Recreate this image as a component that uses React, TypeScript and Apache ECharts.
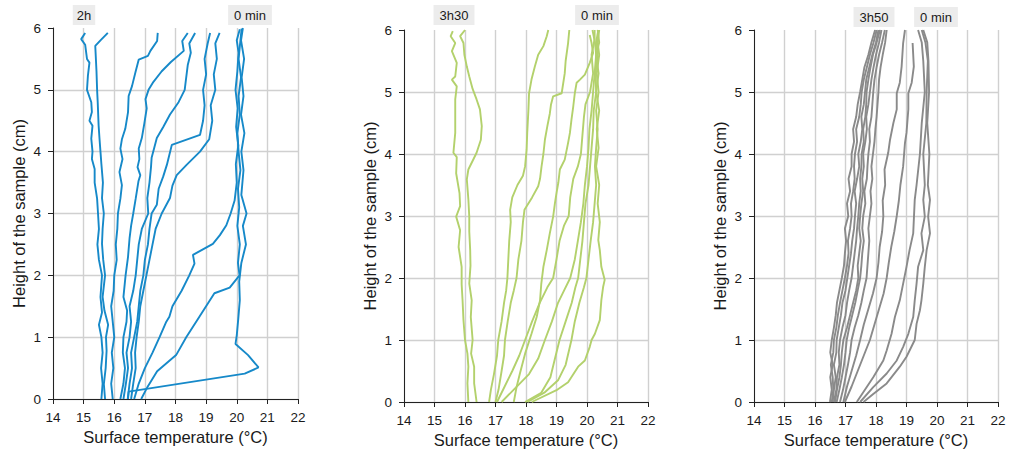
import { useEffect, useRef } from "react";
import * as echarts from "echarts";

// ---------- axis / text content ----------
const xMin = 14;
const xMax = 22;
const yMin = 0;
const yMax = 6;
const xAxisTitle = "Surface temperature (°C)";
const yAxisTitle = "Height of the sample (cm)";

// ---------- Panel 1 (blue) : [temperature °C, height cm] ----------
const blue2h = [[15.58,0],[15.62,0.25],[15.57,0.5],[15.62,0.75],[15.58,1],[15.5,1.2],[15.6,1.4],[15.55,1.65],[15.6,2],[15.5,2.25],[15.45,2.5],[15.5,2.75],[15.47,3],[15.44,3.24],[15.36,3.5],[15.36,3.72],[15.27,3.88],[15.29,4],[15.25,4.21],[15.29,4.42],[15.19,4.5],[15.27,4.64],[15.25,4.8],[15.11,5],[15.14,5.23],[15.19,5.44],[15.11,5.5],[15.05,5.73],[14.92,5.82],[15.05,5.92]];
const blueB = [[15.7,0],[15.66,0.24],[15.72,0.5],[15.75,0.78],[15.73,1],[15.8,1.2],[15.68,1.43],[15.62,1.65],[15.7,2],[15.64,2.25],[15.6,2.51],[15.62,2.75],[15.66,3],[15.6,3.25],[15.63,3.5],[15.58,3.8],[15.55,4],[15.52,4.2],[15.49,4.42],[15.46,4.8],[15.44,5],[15.42,5.3],[15.38,5.71],[15.55,5.8],[15.79,5.92]];
const blueC = [[15.95,0],[15.9,0.25],[15.97,0.5],[15.92,0.75],[16,1],[15.95,1.25],[15.9,1.5],[15.98,1.75],[16,2],[16.08,2.25],[16.05,2.5],[16.1,2.75],[16.12,3],[16.2,3.24],[16.25,3.46],[16.17,3.67],[16.27,3.88],[16.2,4.05],[16.25,4.2],[16.36,4.37],[16.45,4.64],[16.47,4.9],[16.58,5.06],[16.69,5.28],[16.8,5.49],[17.1,5.55],[17.18,5.63],[17.4,5.79],[17.42,5.92]];
const blueD = [[16.2,0],[16.3,0.25],[16.35,0.5],[16.28,0.75],[16.3,1],[16.4,1.25],[16.42,1.43],[16.3,1.65],[16.37,2],[16.45,2.3],[16.5,2.6],[16.55,2.8],[16.62,3],[16.7,3.24],[16.79,3.52],[16.85,3.62],[16.76,3.75],[16.82,3.88],[16.8,4.05],[16.9,4.22],[16.98,4.45],[17.06,4.7],[17.02,4.85],[17.12,5],[17.28,5.13],[17.55,5.3],[17.85,5.45],[18.27,5.63],[18.22,5.79],[18.4,5.92]];
const blueE = [[16.3,0],[16.38,0.25],[16.45,0.5],[16.4,0.75],[16.5,1],[16.55,1.25],[16.5,1.5],[16.62,1.75],[16.7,2],[16.75,2.25],[16.8,2.5],[16.9,2.75],[17.11,3],[17.08,3.25],[17.15,3.5],[17.2,3.75],[17.22,3.9],[17.3,4.05],[17.39,4.22],[17.6,4.4],[17.82,4.6],[18.1,4.8],[18.3,5],[18.35,5.2],[18.4,5.4],[18.5,5.6],[18.45,5.75],[18.64,5.92]];
const blueF = [[16.44,0],[16.5,0.25],[16.58,0.5],[16.55,0.75],[16.65,1],[16.75,1.25],[16.8,1.5],[16.85,1.75],[16.95,2],[17,2.25],[17.1,2.5],[17.15,2.75],[17.22,3],[17.39,3.14],[17.45,3.4],[17.6,3.6],[17.72,3.79],[17.8,3.95],[17.88,4.11],[18.8,4.27],[18.9,4.5],[18.95,4.75],[18.9,5],[19,5.25],[18.95,5.5],[19.05,5.75],[19.13,5.92]];
const blueG = [[16.55,0],[16.62,0.25],[16.7,0.5],[16.68,0.75],[16.73,1],[16.8,1.25],[16.85,1.5],[16.95,1.75],[17.05,2],[17.15,2.25],[17.25,2.5],[17.35,2.75],[17.55,3],[17.82,3.25],[17.9,3.45],[18.04,3.62],[18.37,3.79],[18.8,4],[19.1,4.2],[19.2,4.5],[19.15,4.75],[19.3,5],[19.25,5.25],[19.35,5.5],[19.3,5.75],[19.44,5.92]];
const blueH = [[16.65,0],[16.8,0.25],[17,0.5],[17.25,0.75],[17.48,1],[17.7,1.25],[17.8,1.33],[17.9,1.5],[18.2,1.75],[18.45,2],[18.62,2.19],[18.57,2.33],[19.22,2.51],[19.45,2.65],[19.66,2.81],[19.8,3],[19.93,3.21],[20,3.5],[19.97,3.8],[20.05,4.1],[19.98,4.4],[20.03,4.7],[19.96,5],[20.02,5.3],[20.06,5.6],[20,5.8],[20.1,5.98]];
const blueI = [[16.88,0],[17.09,0.2],[17.4,0.45],[18.02,0.71],[18.35,1],[18.78,1.33],[19.27,1.71],[19.77,1.8],[20.09,2],[20.04,2.2],[20.1,2.5],[20.02,2.8],[20.08,3.1],[20.04,3.4],[20.12,3.7],[20.06,4],[20.02,4.3],[20.1,4.6],[20.06,4.9],[20.14,5.2],[20.06,5.5],[20.12,5.8],[20.16,5.99]];
const blue0min = [[16.45,0],[16.47,0.12],[20.26,0.41],[20.71,0.51],[20.37,0.71],[19.96,0.89],[20,1.03],[20.05,1.3],[20.1,1.6],[20.08,1.9],[20.15,2.2],[20.3,2.5],[20.2,2.8],[20.32,3],[20.15,3.3],[20.22,3.7],[20.15,4],[20.25,4.3],[20.14,4.6],[20.22,4.9],[20.16,5.2],[20.24,5.5],[20.14,5.8],[20.2,6]];
const blueLines = [blue2h, blueB, blueC, blueD, blueE, blueF, blueG, blueH, blueI, blue0min];

// ---------- Panel 2 (green) ----------
const green3h30 = [[16.11,0],[16.08,0.3],[16.11,0.57],[16.08,0.78],[16,1],[15.95,1.32],[15.92,1.64],[15.89,1.9],[15.89,2.18],[15.79,2.5],[15.84,2.77],[15.71,2.99],[15.84,3.16],[15.82,3.37],[15.71,3.69],[15.73,3.95],[15.62,4.02],[15.68,4.34],[15.68,4.6],[15.68,4.88],[15.73,5.09],[15.57,5.2],[15.68,5.25],[15.73,5.47],[15.57,5.66],[15.68,5.79],[15.53,5.9],[15.6,5.98]];
const greenB = [[16.38,0],[16.3,0.3],[16.3,0.57],[16.2,0.78],[16.25,1],[16.19,1.37],[16.22,1.64],[16.14,1.91],[16.18,2.2],[16.17,2.45],[16.14,2.75],[16.14,2.99],[16.11,3.27],[16.06,3.59],[16.11,3.75],[16.28,3.92],[16.38,4.02],[16.52,4.23],[16.55,4.45],[16.49,4.72],[16.38,4.88],[16.25,5.05],[16.14,5.25],[16.06,5.41],[15.98,5.6],[15.95,5.79],[15.84,5.9],[16,6]];
const greenC = [[16.79,0],[16.85,0.2],[16.95,0.45],[17.05,0.75],[17.09,1],[17.2,1.3],[17.28,1.6],[17.35,1.8],[17.39,2],[17.42,2.3],[17.45,2.6],[17.5,2.9],[17.48,3.1],[17.55,3.3],[17.72,3.5],[17.9,3.65],[17.97,3.8],[18.02,4.07],[18.04,4.34],[18.08,4.72],[18.1,4.98],[18.18,5.2],[18.29,5.41],[18.4,5.6],[18.57,5.74],[18.68,5.9],[18.73,6]];
const greenD = [[17,0],[17.1,0.2],[17.2,0.5],[17.28,0.75],[17.31,1],[17.4,1.3],[17.5,1.6],[17.6,1.8],[17.69,2],[17.75,2.3],[17.85,2.6],[17.9,2.9],[17.95,3.1],[18.2,3.3],[18.4,3.48],[18.46,3.6],[18.51,3.8],[18.57,4],[18.62,4.23],[18.7,4.45],[18.78,4.65],[18.82,4.8],[18.89,4.93],[19.17,4.98],[19.27,5.3],[19.3,5.5],[19.38,5.79],[19.42,6]];
const greenE = [[17.05,0],[17.3,0.25],[17.55,0.5],[17.78,0.75],[17.97,1],[18.2,1.3],[18.45,1.6],[18.7,1.85],[18.89,2],[19,2.3],[19.1,2.6],[19.25,2.85],[19.4,3],[19.45,3.3],[19.55,3.6],[19.7,3.8],[19.8,4],[19.85,4.3],[19.9,4.6],[19.95,4.8],[20.1,5],[20.2,5.3],[20.15,5.6],[20.25,5.85],[20.25,6]];
const greenF = [[17.6,0],[17.69,0.24],[17.8,0.46],[17.97,0.78],[18.18,1.1],[18.35,1.37],[18.46,1.64],[18.5,1.9],[18.57,2.18],[18.68,2.45],[18.78,2.72],[18.89,2.99],[18.95,3.21],[19,3.37],[19.06,3.54],[19.11,3.75],[19.27,3.91],[19.38,4.18],[19.44,4.34],[19.49,4.55],[19.55,4.77],[19.6,4.98],[19.66,5.15],[19.77,5.2],[19.93,5.28],[20.09,5.47],[20.2,5.63],[20.15,5.79],[20.09,5.92]];
const greenG = [[17.2,0],[17.6,0.2],[18.1,0.45],[18.4,0.7],[18.62,1],[18.85,1.3],[19.05,1.6],[19.25,1.8],[19.45,2],[19.6,2.3],[19.7,2.6],[19.8,2.9],[19.88,3.2],[19.93,3.5],[20,3.8],[20.05,4.1],[20.08,4.4],[20.15,4.7],[20.2,5],[20.25,5.3],[20.3,5.6],[20.26,5.8],[20.18,6]];
const greenH = [[17.97,0],[18.5,0.15],[18.8,0.4],[18.95,0.7],[19.1,1],[19.3,1.3],[19.5,1.6],[19.62,1.85],[19.71,2],[19.78,2.3],[19.85,2.6],[19.9,2.9],[19.95,3.2],[20.05,3.5],[20.1,3.8],[20.15,4.1],[20.2,4.4],[20.22,4.7],[20.3,5],[20.28,5.3],[20.35,5.6],[20.3,5.8],[20.37,6]];
const greenI = [[18.05,0],[18.6,0.15],[19.05,0.35],[19.3,0.6],[19.49,1],[19.6,1.3],[19.75,1.6],[19.9,1.85],[19.98,2],[20.05,2.3],[20.12,2.6],[20.2,2.9],[20.25,3.2],[20.3,3.5],[20.26,3.8],[20.3,4.1],[20.35,4.4],[20.3,4.7],[20.38,5],[20.32,5.3],[20.4,5.6],[20.35,5.8],[20.4,6]];
const green0min = [[18.19,0],[19,0.19],[19.38,0.32],[19.71,0.57],[19.93,0.67],[20.09,0.89],[20.15,1],[20.26,1.1],[20.42,1.32],[20.47,1.64],[20.53,1.86],[20.58,1.97],[20.47,2.18],[20.42,2.45],[20.37,2.61],[20.42,2.9],[20.35,3.2],[20.4,3.5],[20.3,3.8],[20.38,4.1],[20.32,4.4],[20.4,4.7],[20.3,5],[20.38,5.3],[20.3,5.6],[20.4,5.8],[20.35,6]];
const greenLines = [green3h30, greenB, greenC, greenD, greenE, greenF, greenG, greenH, greenI, green0min];

// ---------- Panel 3 (grey) ----------
const grey3h50 = [[16.49,0],[16.55,0.2],[16.5,0.4],[16.58,0.6],[16.5,0.8],[16.55,1],[16.62,1.2],[16.68,1.4],[16.72,1.6],[16.8,1.8],[16.88,2],[16.95,2.2],[16.98,2.4],[17.02,2.6],[16.98,2.8],[17.09,3],[17.05,3.2],[17.15,3.4],[17.1,3.6],[17.2,3.8],[17.2,4],[17.28,4.2],[17.25,4.4],[17.35,4.6],[17.4,4.8],[17.48,5],[17.55,5.2],[17.62,5.4],[17.75,5.6],[17.85,5.8],[17.97,6]];
const greyB = [[16.55,0],[16.6,0.2],[16.58,0.4],[16.52,0.6],[16.6,0.8],[16.62,1],[16.7,1.2],[16.75,1.4],[16.82,1.6],[16.9,1.8],[16.98,2],[17.05,2.2],[17.1,2.4],[17.08,2.6],[17.15,2.8],[17.2,3],[17.18,3.2],[17.25,3.4],[17.3,3.6],[17.28,3.8],[17.31,4],[17.38,4.2],[17.35,4.4],[17.45,4.6],[17.5,4.8],[17.53,5],[17.6,5.2],[17.7,5.4],[17.8,5.6],[17.92,5.8],[18.02,6]];
const greyC = [[16.58,0],[16.62,0.2],[16.68,0.4],[16.62,0.6],[16.7,0.8],[16.71,1],[16.78,1.2],[16.85,1.4],[16.9,1.6],[17,1.8],[17.06,2],[17.12,2.2],[17.18,2.4],[17.22,2.6],[17.28,2.8],[17.31,3],[17.35,3.2],[17.3,3.4],[17.38,3.6],[17.45,3.8],[17.42,4],[17.5,4.2],[17.55,4.4],[17.52,4.6],[17.6,4.8],[17.64,5],[17.68,5.2],[17.78,5.4],[17.88,5.6],[18,5.8],[18.08,6]];
const greyD = [[16.62,0],[16.7,0.2],[16.72,0.4],[16.8,0.6],[16.78,0.8],[16.82,1],[16.9,1.2],[17,1.4],[17.05,1.6],[17.12,1.8],[17.2,2],[17.25,2.2],[17.3,2.4],[17.35,2.6],[17.38,2.8],[17.42,3],[17.45,3.2],[17.5,3.4],[17.48,3.6],[17.52,3.8],[17.53,4],[17.6,4.2],[17.58,4.4],[17.65,4.6],[17.68,4.8],[17.69,5],[17.75,5.2],[17.82,5.4],[17.9,5.6],[18.02,5.8],[18.13,6]];
const greyE = [[16.66,0],[16.72,0.2],[16.8,0.4],[16.85,0.6],[16.88,0.8],[16.93,1],[17.05,1.2],[17.15,1.4],[17.25,1.6],[17.35,1.8],[17.42,2],[17.4,2.2],[17.45,2.4],[17.5,2.6],[17.45,2.8],[17.48,3],[17.52,3.2],[17.58,3.4],[17.55,3.6],[17.6,3.8],[17.58,4],[17.65,4.2],[17.7,4.4],[17.68,4.6],[17.75,4.8],[17.8,5],[17.85,5.2],[17.92,5.4],[18,5.6],[18.1,5.8],[18.18,6]];
const greyF = [[16.71,0],[16.8,0.2],[16.88,0.4],[16.95,0.6],[17,0.8],[17.04,1],[17.12,1.2],[17.22,1.4],[17.32,1.6],[17.4,1.8],[17.48,2],[17.52,2.2],[17.55,2.4],[17.6,2.6],[17.55,2.8],[17.58,3],[17.65,3.2],[17.62,3.4],[17.7,3.6],[17.72,3.8],[17.75,4],[17.8,4.2],[17.78,4.4],[17.85,4.6],[17.88,4.8],[17.91,5],[17.95,5.2],[18.02,5.4],[18.1,5.6],[18.2,5.8],[18.29,6]];
const greyG = [[16.82,0],[16.92,0.2],[17,0.4],[17.08,0.6],[17.15,0.8],[17.2,1],[17.3,1.2],[17.42,1.4],[17.52,1.6],[17.6,1.8],[17.69,2],[17.72,2.2],[17.75,2.4],[17.78,2.6],[17.75,2.8],[17.8,3],[17.85,3.2],[17.82,3.4],[17.88,3.6],[17.85,3.8],[17.9,4],[17.95,4.2],[17.98,4.4],[18.02,4.6],[18.05,4.8],[18.08,5],[18.1,5.2],[18.15,5.4],[18.22,5.6],[18.3,5.8],[18.35,6]];
const greyH = [[16.93,0],[17.05,0.25],[17.2,0.5],[17.35,0.75],[17.48,1],[17.6,1.25],[17.75,1.5],[17.9,1.75],[18.02,2],[18.08,2.25],[18.12,2.5],[18.2,2.75],[18.24,3],[18.22,3.25],[18.3,3.5],[18.28,3.75],[18.4,4.02],[18.46,4.23],[18.57,4.5],[18.68,4.72],[18.68,4.98],[18.78,5.15],[18.84,5.41],[18.89,5.79],[18.95,6]];
const greyI = [[16.98,0],[17.2,0.25],[17.4,0.5],[17.6,0.75],[17.8,1],[17.95,1.25],[18.1,1.5],[18.25,1.75],[18.35,2],[18.42,2.25],[18.5,2.5],[18.6,2.75],[18.68,3],[18.75,3.25],[18.8,3.5],[18.89,3.8],[18.95,4.18],[19,4.34],[19.06,4.72],[19.06,4.98],[19.17,5.15],[19.24,5.41],[19.2,5.79]];
const greyJ = [[17.37,0],[17.91,0.4],[18.24,0.67],[18.35,0.83],[18.51,1.1],[18.62,1.37],[18.78,1.64],[18.89,1.91],[19,2.18],[19.1,2.45],[19.22,2.72],[19.27,3.26],[19.33,3.5],[19.44,4],[19.5,4.5],[19.6,5],[19.55,5.5],[19.5,5.8],[19.38,6]];
const greyK = [[17.48,0],[17.91,0.24],[18.35,0.46],[18.68,0.67],[18.89,0.89],[19.06,1.1],[19.22,1.37],[19.27,1.64],[19.33,1.91],[19.38,2.18],[19.55,2.45],[19.49,2.72],[19.6,2.99],[19.55,3.26],[19.6,3.5],[19.55,4],[19.65,4.5],[19.66,5],[19.7,5.5],[19.62,5.8],[19.5,6]];
const grey0min = [[17.59,0],[17.91,0.13],[18.35,0.3],[18.78,0.57],[19,0.73],[19.27,1],[19.33,1.26],[19.44,1.48],[19.49,1.64],[19.55,1.91],[19.6,2.18],[19.66,2.45],[19.77,2.72],[19.71,2.99],[19.77,3.26],[19.7,3.5],[19.75,4],[19.68,4.5],[19.74,5],[19.72,5.5],[19.68,5.8],[19.55,6]];
const greyLines = [grey3h50, greyB, greyC, greyD, greyE, greyF, greyG, greyH, greyI, greyJ, greyK, grey0min];

// ---------- annotation labels ----------
const panel1Labels = ["2h", "0 min"];
const panel2Labels = ["3h30", "0 min"];
const panel3Labels = ["3h50", "0 min"];

const FONT = "'Liberation Sans', Arial, Helvetica, sans-serif";
const TEXT = "#1a1a1a";
const AXIS = "#222222";

export default function App() {
  const ref = useRef<HTMLDivElement>(null);

  useEffect(() => {
    if (!ref.current) return;
    const chart = echarts.init(ref.current, undefined, { renderer: "svg" });

    const panels = [
      { lines: blueLines, color: "#1689c9", grid: { left: 53, top: 28, width: 245, height: 371 }, labels: panel1Labels, labelPos: [[84, 15], [250, 15]] },
      { lines: greenLines, color: "#b3d16c", grid: { left: 404, top: 30, width: 244, height: 372 }, labels: panel2Labels, labelPos: [[454, 15], [597, 15]] },
      { lines: greyLines, color: "#8a8a8a", grid: { left: 754, top: 30, width: 244, height: 372 }, labels: panel3Labels, labelPos: [[874, 17], [936, 17]] },
    ];

    const grids = panels.map((p) => p.grid);
    const xAxes = panels.map((_, i) => ({
      type: "value",
      gridIndex: i,
      min: xMin,
      max: xMax,
      interval: 1,
      name: xAxisTitle,
      nameLocation: "middle",
      nameGap: 28,
      nameTextStyle: { fontFamily: FONT, fontSize: 16.5, color: TEXT },
      axisLine: { show: true, lineStyle: { color: AXIS, width: 1 } },
      axisTick: { show: true, length: 5, lineStyle: { color: AXIS } },
      axisLabel: { fontFamily: FONT, fontSize: 13.5, color: TEXT, margin: 11 },
      splitLine: { show: true, lineStyle: { color: "#d0d0d0", width: 1.4 } },
    }));
    const yAxes = panels.map((_, i) => ({
      type: "value",
      gridIndex: i,
      min: yMin,
      max: yMax,
      interval: 1,
      name: yAxisTitle,
      nameLocation: "middle",
      nameGap: 26,
      nameRotate: 90,
      nameTextStyle: { fontFamily: FONT, fontSize: 16.5, color: TEXT },
      axisLine: { show: true, lineStyle: { color: AXIS, width: 1 } },
      axisTick: { show: true, length: 5, lineStyle: { color: AXIS } },
      axisLabel: { fontFamily: FONT, fontSize: 13.5, color: TEXT, margin: 12 },
      splitLine: { show: true, showMaxLine: false, lineStyle: { color: "#d0d0d0", width: 1.4 } },
    }));

    const series: any[] = [];
    panels.forEach((p, i) => {
      p.lines.forEach((data, j) => {
        series.push({
          type: "line",
          name: `p${i}-${j}`,
          xAxisIndex: i,
          yAxisIndex: i,
          data,
          showSymbol: false,
          symbol: "none",
          silent: true,
          lineStyle: { color: p.color, width: 1.9 },
          z: 3,
        });
      });
    });

    const graphic: any[] = [];
    panels.forEach((p) => {
      p.labels.forEach((txt, k) => {
        graphic.push({
          type: "text",
          x: p.labelPos[k][0],
          y: p.labelPos[k][1],
          z: 10,
          style: {
            text: txt,
            fontFamily: FONT,
            fontSize: 13,
            fill: TEXT,
            align: "center",
            verticalAlign: "middle",
            backgroundColor: "#ececec",
            padding: txt.length <= 2 ? [4, 4, 3, 4] : [4, 6, 3, 6],
          },
        });
      });
    });

    chart.setOption({
      animation: false,
      backgroundColor: "#ffffff",
      grid: grids,
      xAxis: xAxes,
      yAxis: yAxes,
      series,
      graphic,
    });

    return () => chart.dispose();
  }, []);

  return (
    <div
      ref={ref}
      style={{ position: "absolute", left: 0, top: 0, width: 1010, height: 459 }}
    />
  );
}
